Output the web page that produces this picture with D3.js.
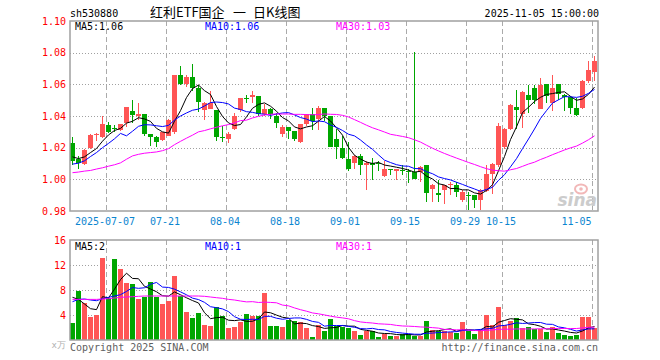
<!DOCTYPE html>
<meta charset="utf-8">
<script src="https://d3js.org/d3.v7.min.js"></script>
<style>
  body { margin: 0; background: #fff; }
  text { font-family: "DejaVu Sans Mono", monospace; font-size: 10px; }
</style>
<div id="chart"></div>
<script>
  // trading days shown (06-27 .. 11-05)
  var dates = [
    "2025-06-27","2025-06-30","2025-07-01","2025-07-02","2025-07-03","2025-07-04","2025-07-07","2025-07-08","2025-07-09","2025-07-10",
    "2025-07-11","2025-07-14","2025-07-15","2025-07-16","2025-07-17","2025-07-18","2025-07-21","2025-07-22","2025-07-23","2025-07-24",
    "2025-07-25","2025-07-28","2025-07-29","2025-07-30","2025-07-31","2025-08-01","2025-08-04","2025-08-05","2025-08-06","2025-08-07",
    "2025-08-08","2025-08-11","2025-08-12","2025-08-13","2025-08-14","2025-08-15","2025-08-18","2025-08-19","2025-08-20","2025-08-21",
    "2025-08-22","2025-08-25","2025-08-26","2025-08-27","2025-08-28","2025-08-29","2025-09-01","2025-09-02","2025-09-03","2025-09-04",
    "2025-09-05","2025-09-08","2025-09-09","2025-09-10","2025-09-11","2025-09-12","2025-09-15","2025-09-16","2025-09-17","2025-09-18",
    "2025-09-19","2025-09-22","2025-09-23","2025-09-24","2025-09-25","2025-09-26","2025-09-29","2025-09-30","2025-10-09","2025-10-10",
    "2025-10-13","2025-10-14","2025-10-15","2025-10-16","2025-10-17","2025-10-20","2025-10-21","2025-10-22","2025-10-23","2025-10-24",
    "2025-10-27","2025-10-28","2025-10-29","2025-10-30","2025-10-31","2025-11-03","2025-11-04","2025-11-05"];

  var open = [
    1.0227,1.0131,1.0100,1.0196,1.0283,1.0265,1.0344,1.0327,1.0310,1.0354,
    1.0429,1.0402,1.0415,1.0285,1.0267,1.0246,1.0275,1.0296,1.0660,1.0602,
    1.0648,1.0577,1.0438,1.0446,1.0438,1.0267,1.0254,1.0317,1.0438,1.0515,
    1.0521,1.0529,1.0410,1.0446,1.0400,1.0285,1.0331,1.0306,1.0237,1.0348,
    1.0415,1.0379,1.0452,1.0400,1.0254,1.0198,1.0129,1.0102,1.0150,1.0088,
    1.0106,1.0102,1.0019,1.0067,1.0052,1.0056,1.0054,1.0046,1.0046,1.0088,
    0.9938,0.9915,0.9931,0.9963,0.9967,0.9869,0.9900,0.9900,0.9869,0.9927,
    1.0035,1.0088,1.0202,1.0317,1.0454,1.0410,1.0535,1.0577,1.0446,1.0602,
    1.0483,1.0602,1.0535,1.0519,1.0452,1.0452,1.0619,1.0681];
  var high = [
    1.0267,1.0146,1.0190,1.0288,1.0294,1.0398,1.0365,1.0344,1.0352,1.0454,
    1.0504,1.0483,1.0415,1.0285,1.0275,1.0302,1.0383,1.0660,1.0713,1.0660,
    1.0731,1.0598,1.0487,1.0556,1.0438,1.0338,1.0300,1.0421,1.0515,1.0535,
    1.0556,1.0529,1.0473,1.0452,1.0421,1.0346,1.0331,1.0306,1.0348,1.0415,
    1.0452,1.0465,1.0452,1.0400,1.0315,1.0275,1.0233,1.0152,1.0160,1.0117,
    1.0133,1.0117,1.0117,1.0067,1.0067,1.0088,1.0067,1.0804,1.0085,1.0088,
    0.9973,0.9994,0.9963,0.9985,0.9981,0.9931,0.9921,0.9900,0.9937,1.0088,
    1.0104,1.0354,1.0327,1.0473,1.0567,1.0556,1.0598,1.0598,1.0640,1.0602,
    1.0660,1.0602,1.0540,1.0525,1.0515,1.0627,1.0748,1.0779];
  var low = [
    1.0092,1.0067,1.0092,1.0190,1.0244,1.0258,1.0294,1.0300,1.0304,1.0331,
    1.0354,1.0377,1.0275,1.0212,1.0202,1.0242,1.0271,1.0285,1.0594,1.0585,
    1.0556,1.0425,1.0377,1.0442,1.0244,1.0233,1.0229,1.0310,1.0425,1.0483,
    1.0483,1.0400,1.0400,1.0379,1.0327,1.0265,1.0254,1.0244,1.0227,1.0338,
    1.0313,1.0313,1.0370,1.0202,1.0129,1.0129,1.0050,1.0067,1.0029,0.9931,
    0.9998,1.0054,1.0015,1.0029,0.9998,1.0029,0.9977,1.0000,0.9983,0.9858,
    0.9858,0.9860,0.9844,0.9904,0.9888,0.9858,0.9806,0.9821,0.9806,0.9919,
    0.9910,1.0077,1.0190,1.0313,1.0317,1.0327,1.0421,1.0473,1.0442,1.0483,
    1.0431,1.0502,1.0431,1.0410,1.0400,1.0446,1.0608,1.0623];
  var close = [
    1.0117,1.0104,1.0183,1.0281,1.0288,1.0348,1.0302,1.0323,1.0348,1.0454,
    1.0406,1.0415,1.0285,1.0269,1.0235,1.0296,1.0375,1.0660,1.0604,1.0648,
    1.0577,1.0488,1.0483,1.0483,1.0269,1.0262,1.0285,1.0400,1.0515,1.0512,
    1.0531,1.0410,1.0446,1.0410,1.0354,1.0331,1.0306,1.0254,1.0348,1.0415,
    1.0369,1.0452,1.0400,1.0206,1.0202,1.0135,1.0067,1.0150,1.0088,1.0104,
    1.0092,1.0100,1.0067,1.0056,1.0067,1.0054,1.0048,1.0004,1.0081,0.9915,
    0.9963,0.9898,0.9963,0.9969,0.9921,0.9917,0.9896,0.9869,0.9931,1.0035,
    1.0098,1.0338,1.0317,1.0467,1.0438,1.0550,1.0504,1.0500,1.0598,1.0529,
    1.0577,1.0542,1.0519,1.0452,1.0406,1.0619,1.0688,1.0748];
  // volume, x万
  var volume = [
    2.77,7.84,5.97,3.73,4.00,13.15,6.80,13.00,11.40,9.10,
    8.96,6.56,6.90,9.28,6.90,5.76,6.24,10.24,7.05,4.48,
    3.55,4.30,2.45,2.30,5.30,3.86,1.92,2.13,2.88,4.16,
    3.89,3.89,7.57,2.29,2.29,2.13,3.20,2.99,2.88,1.92,
    0.53,2.45,1.49,3.36,2.20,2.13,1.92,1.44,0.82,1.41,
    1.41,0.53,1.04,0.70,0.72,1.04,1.00,0.60,0.70,3.06,
    1.65,1.46,1.46,1.30,1.10,2.90,1.50,0.96,1.55,4.00,
    2.40,5.30,2.35,3.00,3.52,1.92,2.13,1.71,1.71,1.28,
    2.10,1.20,0.85,0.64,0.80,3.73,3.73,1.85];

  // moving-average values before a full window is on screen
  var ma5Head = [1.0142,1.0131,1.0142,1.0169];
  var ma10Head = [1.0096,1.0102,1.0117,1.0144,1.0169,1.0200,1.0227,1.0256,1.0290];
  var ma30Head = [1.0042,1.0046,1.0052,1.0056,1.0065,1.0073,1.0083,1.0092,1.0104,1.0127,
    1.0148,1.0158,1.0165,1.0169,1.0173,1.0181,1.0194,1.0219,1.0240,1.0260,
    1.0279,1.0300,1.0308,1.0319,1.0329,1.0338,1.0346,1.0356,1.0371];
  var volMa5Head = [6.83,6.50,5.76,5.01];
  var volMa10Head = [6.13,6.50,6.56,6.40,6.29,6.61,6.83,7.04,7.25];
  var volMa30Head = [6.50,6.50,6.50,6.50,6.50,6.56,6.61,6.72,6.83,6.88,
    6.93,6.99,7.04,7.04,7.04,7.04,7.04,7.04,7.04,7.04,
    7.04,7.04,6.99,6.88,6.77,6.67,6.50,6.40,6.24];

  var priceTicks = [0.98, 1.00, 1.02, 1.04, 1.06, 1.08, 1.10];
  var volTicks = [4, 8, 12, 16];
  var dateTicks = ["2025-07-07","2025-07-21","2025-08-04","2025-08-18","2025-09-01","2025-09-15","2025-09-29","2025-10-15","2025-11-05"];
  var titleParts = ["红利ETF国企", "一", "日K线图"];
  var maLabels = ["MA5:1.06", "MA10:1.06", "MA30:1.03"];
  var volMaLabels = ["MA5:2", "MA10:1", "MA30:1"];

  var upColor = "#ff5555", downColor = "#00a600";
  var maColors = ["#000000", "#0000ff", "#ff00ff"];

  function movingAvg(vals, n, head) {
    return vals.map(function (v, i) {
      if (i < n - 1) return head[i];
      return d3.mean(vals.slice(i - n + 1, i + 1));
    });
  }

  var left = 70, right = 598;
  var pTop = 21, pBottom = 211, vTop = 240, vBottom = 340;

  var svg = d3.select("#chart").append("svg")
    .attr("width", 660).attr("height", 360);

  var x = d3.scaleBand().domain(dates).range([left, right])
    .paddingInner(1 / 6).paddingOuter(1 / 12).align(0);
  var y = d3.scaleLinear().domain([0.98, 1.10]).range([pBottom, pTop]);
  var yv = d3.scaleLinear().domain([0, 16]).range([vBottom, vTop]);
  function xc(d) { return x(d) + 2.5; }

  // header
  svg.append("text").attr("x", 70).attr("y", 17).text("sh530880");
  var titleX = [150, 233, 253];
  titleParts.forEach(function (t, k) {
    svg.append("text").attr("x", titleX[k]).attr("y", 17)
      .style("font-family", "'Noto Sans CJK SC', sans-serif").style("font-size", "13px")
      .text(t);
  });
  svg.append("text").attr("x", 599).attr("y", 17).attr("text-anchor", "end")
    .text("2025-11-05 15:00:00");

  // grid
  function grid(top, bottom, yScale, vals) {
    var g = svg.append("g");
    g.selectAll(".h").data(vals).enter().append("line")
      .attr("x1", left).attr("x2", right)
      .attr("y1", function (d) { return Math.round(yScale(d)) + 0.5; })
      .attr("y2", function (d) { return Math.round(yScale(d)) + 0.5; })
      .attr("stroke", "#a0a0a0").attr("stroke-dasharray", "1,2");
    g.selectAll(".v").data(dateTicks).enter().append("line")
      .attr("x1", function (d) { return x(d) + 0.5; })
      .attr("x2", function (d) { return x(d) + 0.5; })
      .attr("y1", top).attr("y2", bottom)
      .attr("stroke", "#aaaaaa").attr("stroke-dasharray", "5,3");
  }
  grid(pTop, pBottom, y, [1.00, 1.02, 1.04, 1.06, 1.08]);
  grid(vTop, vBottom, yv, [4, 8, 12]);

  // watermark
  var wm = svg.append("g");
  wm.append("ellipse").attr("cx", 581).attr("cy", 189).attr("rx", 6).attr("ry", 4.5)
    .attr("fill", "none").attr("stroke", "#f2b8b8").attr("stroke-width", 2);
  wm.append("circle").attr("cx", 581).attr("cy", 189).attr("r", 1.8).attr("fill", "#f2b8b8");
  wm.append("text").attr("x", 597).attr("y", 206).attr("text-anchor", "end")
    .style("font-family", "'DejaVu Sans', sans-serif").style("font-size", "17px")
    .style("font-weight", "bold").style("font-style", "italic")
    .attr("fill", "#cccccc").text("sina");

  // candles
  var idx = d3.range(dates.length);
  function col(i) { return close[i] >= open[i] ? upColor : downColor; }
  var cg = svg.append("g").attr("shape-rendering", "crispEdges");
  cg.selectAll(".wick").data(idx).enter().append("line")
    .attr("x1", function (i) { return xc(dates[i]); })
    .attr("x2", function (i) { return xc(dates[i]); })
    .attr("y1", function (i) { return y(high[i]); })
    .attr("y2", function (i) { return y(low[i]); })
    .attr("stroke", col);
  cg.selectAll(".body").data(idx).enter().append("rect")
    .attr("x", function (i) { return x(dates[i]); })
    .attr("width", x.bandwidth())
    .attr("y", function (i) { return y(Math.max(open[i], close[i])); })
    .attr("height", function (i) { return Math.max(1, Math.abs(y(open[i]) - y(close[i]))); })
    .attr("fill", col);

  // volume bars
  cg.selectAll(".vol").data(idx).enter().append("rect")
    .attr("x", function (i) { return x(dates[i]); })
    .attr("width", x.bandwidth())
    .attr("y", function (i) { return yv(volume[i]); })
    .attr("height", function (i) { return vBottom - yv(volume[i]); })
    .attr("fill", col);

  // moving averages
  var priceMa = [movingAvg(close, 5, ma5Head), movingAvg(close, 10, ma10Head), movingAvg(close, 30, ma30Head)];
  var volMa = [movingAvg(volume, 5, volMa5Head), movingAvg(volume, 10, volMa10Head), movingAvg(volume, 30, volMa30Head)];
  function drawLines(series, yScale) {
    series.forEach(function (s, k) {
      var line = d3.line().x(function (d, i) { return xc(dates[i]); }).y(function (d) { return yScale(d); });
      svg.append("path").datum(s).attr("d", line)
        .attr("fill", "none").attr("stroke", maColors[k]).attr("stroke-width", 1);
    });
  }
  drawLines(priceMa, y);
  drawLines(volMa, yv);

  // frames
  svg.append("rect").attr("x", left).attr("y", pTop).attr("width", right - left).attr("height", pBottom - pTop)
    .attr("fill", "none").attr("stroke", "#a0a0a0").attr("stroke-width", 1.5);
  svg.append("rect").attr("x", left).attr("y", vTop).attr("width", right - left).attr("height", vBottom - vTop)
    .attr("fill", "none").attr("stroke", "#a0a0a0").attr("stroke-width", 1.5);

  // MA legends
  var legX = [75, 205, 336];
  maLabels.forEach(function (t, k) {
    svg.append("text").attr("x", legX[k]).attr("y", 30).attr("fill", maColors[k]).text(t);
  });
  volMaLabels.forEach(function (t, k) {
    svg.append("text").attr("x", legX[k]).attr("y", 250).attr("fill", maColors[k]).text(t);
  });

  // axes
  var ya = svg.append("g").attr("transform", "translate(" + left + ",0)")
    .call(d3.axisLeft(y).tickValues(priceTicks).tickSize(0).tickPadding(4).tickFormat(d3.format(".2f")));
  var va = svg.append("g").attr("transform", "translate(" + left + ",0)")
    .call(d3.axisLeft(yv).tickValues(volTicks).tickSize(0).tickPadding(4).tickFormat(d3.format("d")));
  [ya, va].forEach(function (g) {
    g.select(".domain").remove();
    g.selectAll("text").attr("fill", "#ff0000")
      .style("font-family", "'DejaVu Sans Mono', monospace").style("font-size", "10px");
  });

  var xa = svg.append("g").attr("transform", "translate(0," + pBottom + ")")
    .call(d3.axisBottom(x).tickValues(dateTicks).tickSize(0).tickPadding(7)
      .tickFormat(function (d, i) { return i === 0 ? d : d.slice(5); }));
  xa.select(".domain").remove();
  xa.selectAll("text").attr("fill", "#0b85d0")
    .style("font-family", "'DejaVu Sans Mono', monospace").style("font-size", "10px")
    .attr("x", function (d, i) { return i === dateTicks.length - 1 ? -3 : -3.5; })
    .attr("text-anchor", function (d, i) { return i === dateTicks.length - 1 ? "end" : "middle"; });

  // footer
  svg.append("text").attr("x", 66).attr("y", 348).attr("text-anchor", "end")
    .attr("fill", "#b0b0b0").style("font-size", "9px").text("x万");
  svg.append("text").attr("x", 70).attr("y", 351).attr("fill", "#606060").text("Copyright 2025 SINA.COM");
  svg.append("text").attr("x", 598).attr("y", 351).attr("text-anchor", "end")
    .attr("fill", "#606060").text("http://finance.sina.com.cn");
</script>
